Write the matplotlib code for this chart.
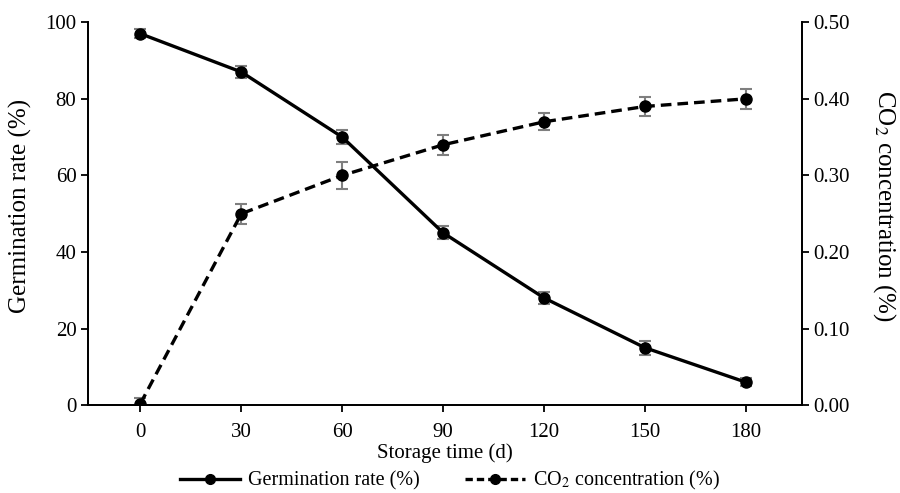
import matplotlib
matplotlib.use('Agg')
import matplotlib.pyplot as plt
from matplotlib.lines import Line2D

# 数据
days = [0, 30, 60, 90, 120, 150, 180]
germination = [97, 87, 70, 45, 28, 15, 6]
germination_err = [1.2, 1.5, 1.8, 1.7, 1.5, 1.8, 1.0]
co2 = [0.002, 0.25, 0.30, 0.34, 0.37, 0.39, 0.40]
co2_err = [0.008, 0.013, 0.018, 0.013, 0.011, 0.012, 0.013]

plt.rcParams['font.family'] = ['Liberation Serif', 'DejaVu Serif']
plt.rcParams['mathtext.fontset'] = 'stix'

fig = plt.figure(figsize=(9, 4.93), dpi=100)
ax = fig.add_axes([0.098, 0.178, 0.793, 0.777])
ax2 = ax.twinx()

err_kw = dict(ecolor='#7f7f7f', elinewidth=1.5, capsize=4, capthick=1.5)
ax.errorbar(days, germination, yerr=germination_err, color='black', lw=2.4,
            marker='o', ms=8, **err_kw)
ax2.errorbar(days, co2, yerr=co2_err, color='black', lw=2.4, ls='--',
             dashes=(3.2, 1.8), marker='o', ms=8, **err_kw)

ax.set_xlim(-15.5, 196.6)
ax.set_ylim(0, 100)
ax2.set_ylim(0, 0.5)
ax.set_xticks(days)
ax.set_yticks(range(0, 101, 20))
ax2.set_yticks([0, 0.1, 0.2, 0.3, 0.4, 0.5])
ax2.set_yticklabels(['0.00', '0.10', '0.20', '0.30', '0.40', '0.50'])

for a in (ax, ax2):
    a.spines['top'].set_visible(False)
    for s in a.spines.values():
        s.set_linewidth(1.3)
    a.tick_params(labelsize=15, width=1.3, length=5, direction='out')
ax.tick_params(axis='x', pad=8)

ax.set_xlabel('Storage time (d)', fontsize=15, labelpad=1)
ax.set_ylabel('Germination rate (%)', fontsize=18, va='center')
ax.yaxis.set_label_coords(-0.095, 0.52)
ax2.set_ylabel('CO$_2$ concentration (%)', fontsize=18, rotation=270, va='center')
ax2.yaxis.set_label_coords(1.116, 0.52)

# 图例（无误差线）
h1 = Line2D([], [], color='black', lw=2.4, marker='o', ms=7)
h2 = Line2D([], [], color='black', lw=2.4, ls='--', dashes=(2.2, 1.2), marker='o', ms=7)
fig.legend([h1, h2], ['Germination rate (%)', 'CO$_2$ concentration (%)'],
           loc='lower center', bbox_to_anchor=(0.5, -0.035), ncol=2,
           frameon=False, fontsize=14.5, handlelength=3.0, handletextpad=0.4,
           columnspacing=2.2)

fig.savefig('out.png', dpi=100)
